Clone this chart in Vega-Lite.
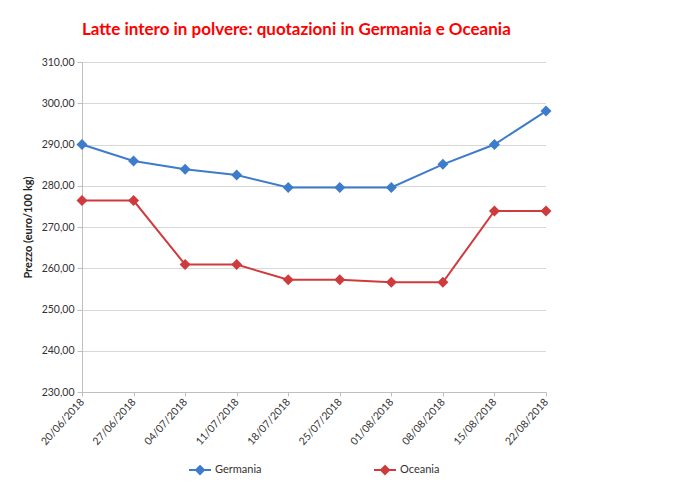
{
  "$schema": "https://vega.github.io/schema/vega-lite/v6.json",
  "width": 464,
  "height": 330,
  "autosize": "none",
  "padding": {"left": 82, "top": 62, "right": 152, "bottom": 100},
  "background": "white",
  "title": {
    "text": "Latte intero in polvere: quotazioni in Germania e Oceania",
    "anchor": "start",
    "frame": "group",
    "color": "#FF0000",
    "font": "Lato",
    "fontSize": 17,
    "fontWeight": "bold",
    "offset": 18
  },
  "data": {
    "values": [
      {"data": "20/06/2018", "serie": "Germania", "prezzo": 290.0},
      {"data": "27/06/2018", "serie": "Germania", "prezzo": 286.0},
      {"data": "04/07/2018", "serie": "Germania", "prezzo": 284.0},
      {"data": "11/07/2018", "serie": "Germania", "prezzo": 282.6},
      {"data": "18/07/2018", "serie": "Germania", "prezzo": 279.6},
      {"data": "25/07/2018", "serie": "Germania", "prezzo": 279.6},
      {"data": "01/08/2018", "serie": "Germania", "prezzo": 279.6},
      {"data": "08/08/2018", "serie": "Germania", "prezzo": 285.2},
      {"data": "15/08/2018", "serie": "Germania", "prezzo": 290.0},
      {"data": "22/08/2018", "serie": "Germania", "prezzo": 298.1},
      {"data": "20/06/2018", "serie": "Oceania", "prezzo": 276.4},
      {"data": "27/06/2018", "serie": "Oceania", "prezzo": 276.4},
      {"data": "04/07/2018", "serie": "Oceania", "prezzo": 260.9},
      {"data": "11/07/2018", "serie": "Oceania", "prezzo": 260.9},
      {"data": "18/07/2018", "serie": "Oceania", "prezzo": 257.2},
      {"data": "25/07/2018", "serie": "Oceania", "prezzo": 257.2},
      {"data": "01/08/2018", "serie": "Oceania", "prezzo": 256.6},
      {"data": "08/08/2018", "serie": "Oceania", "prezzo": 256.6},
      {"data": "15/08/2018", "serie": "Oceania", "prezzo": 273.9},
      {"data": "22/08/2018", "serie": "Oceania", "prezzo": 273.9}
    ]
  },
  "mark": {
    "type": "line",
    "strokeWidth": 2,
    "point": {"filled": true, "shape": "diamond", "size": 120, "strokeWidth": 1}
  },
  "encoding": {
    "x": {
      "field": "data",
      "type": "ordinal",
      "sort": null,
      "scale": {"type": "point", "padding": 0},
      "axis": {
        "title": null,
        "labelAngle": -48,
        "labelAlign": "right",
        "labelBaseline": "middle",
        "labelFont": "Lato",
        "labelFontSize": 10.5,
        "labelColor": "#333333",
        "labelPadding": 4,
        "domainColor": "#bfbfbf",
        "tickColor": "#bfbfbf",
        "tickSize": 4,
        "grid": false
      }
    },
    "y": {
      "field": "prezzo",
      "type": "quantitative",
      "scale": {"domain": [230, 310], "nice": false, "zero": false},
      "axis": {
        "title": "Prezzo (euro/100 kg)",
        "titleFont": "Lato",
        "titleFontSize": 11,
        "titleFontWeight": "bold",
        "titleColor": "#222222",
        "titlePadding": 8,
        "values": [230, 240, 250, 260, 270, 280, 290, 300, 310],
        "labelExpr": "replace(format(datum.value, '.2f'), '.', ',')",
        "labelFont": "Lato",
        "labelFontSize": 10.5,
        "labelColor": "#333333",
        "labelPadding": 3,
        "domainColor": "#bfbfbf",
        "tickColor": "#bfbfbf",
        "tickSize": 5,
        "grid": true,
        "gridColor": "#b0b0b0",
        "gridDash": [1, 1]
      }
    },
    "color": {
      "field": "serie",
      "type": "nominal",
      "scale": {"domain": ["Germania", "Oceania"], "range": ["#3D7CCB", "#CF3B3C"]},
      "legend": {
        "title": null,
        "orient": "none",
        "legendX": 106,
        "legendY": 396,
        "direction": "horizontal",
        "columns": 2,
        "columnPadding": 108,
        "symbolType": "M-1,0L1,0M0,-0.36L0.36,0L0,0.36L-0.36,0Z",
        "symbolSize": 484,
        "symbolStrokeWidth": 2,
        "labelFont": "Lato",
        "labelFontSize": 11,
        "labelColor": "#333333",
        "labelOffset": 3,
        "encode": {
          "symbols": {
            "update": {
              "fill": {"scale": "color", "field": "value"},
              "stroke": {"scale": "color", "field": "value"},
              "fillOpacity": {"value": 1}
            }
          }
        }
      }
    }
  },
  "config": {
    "view": {"stroke": null}
  }
}
